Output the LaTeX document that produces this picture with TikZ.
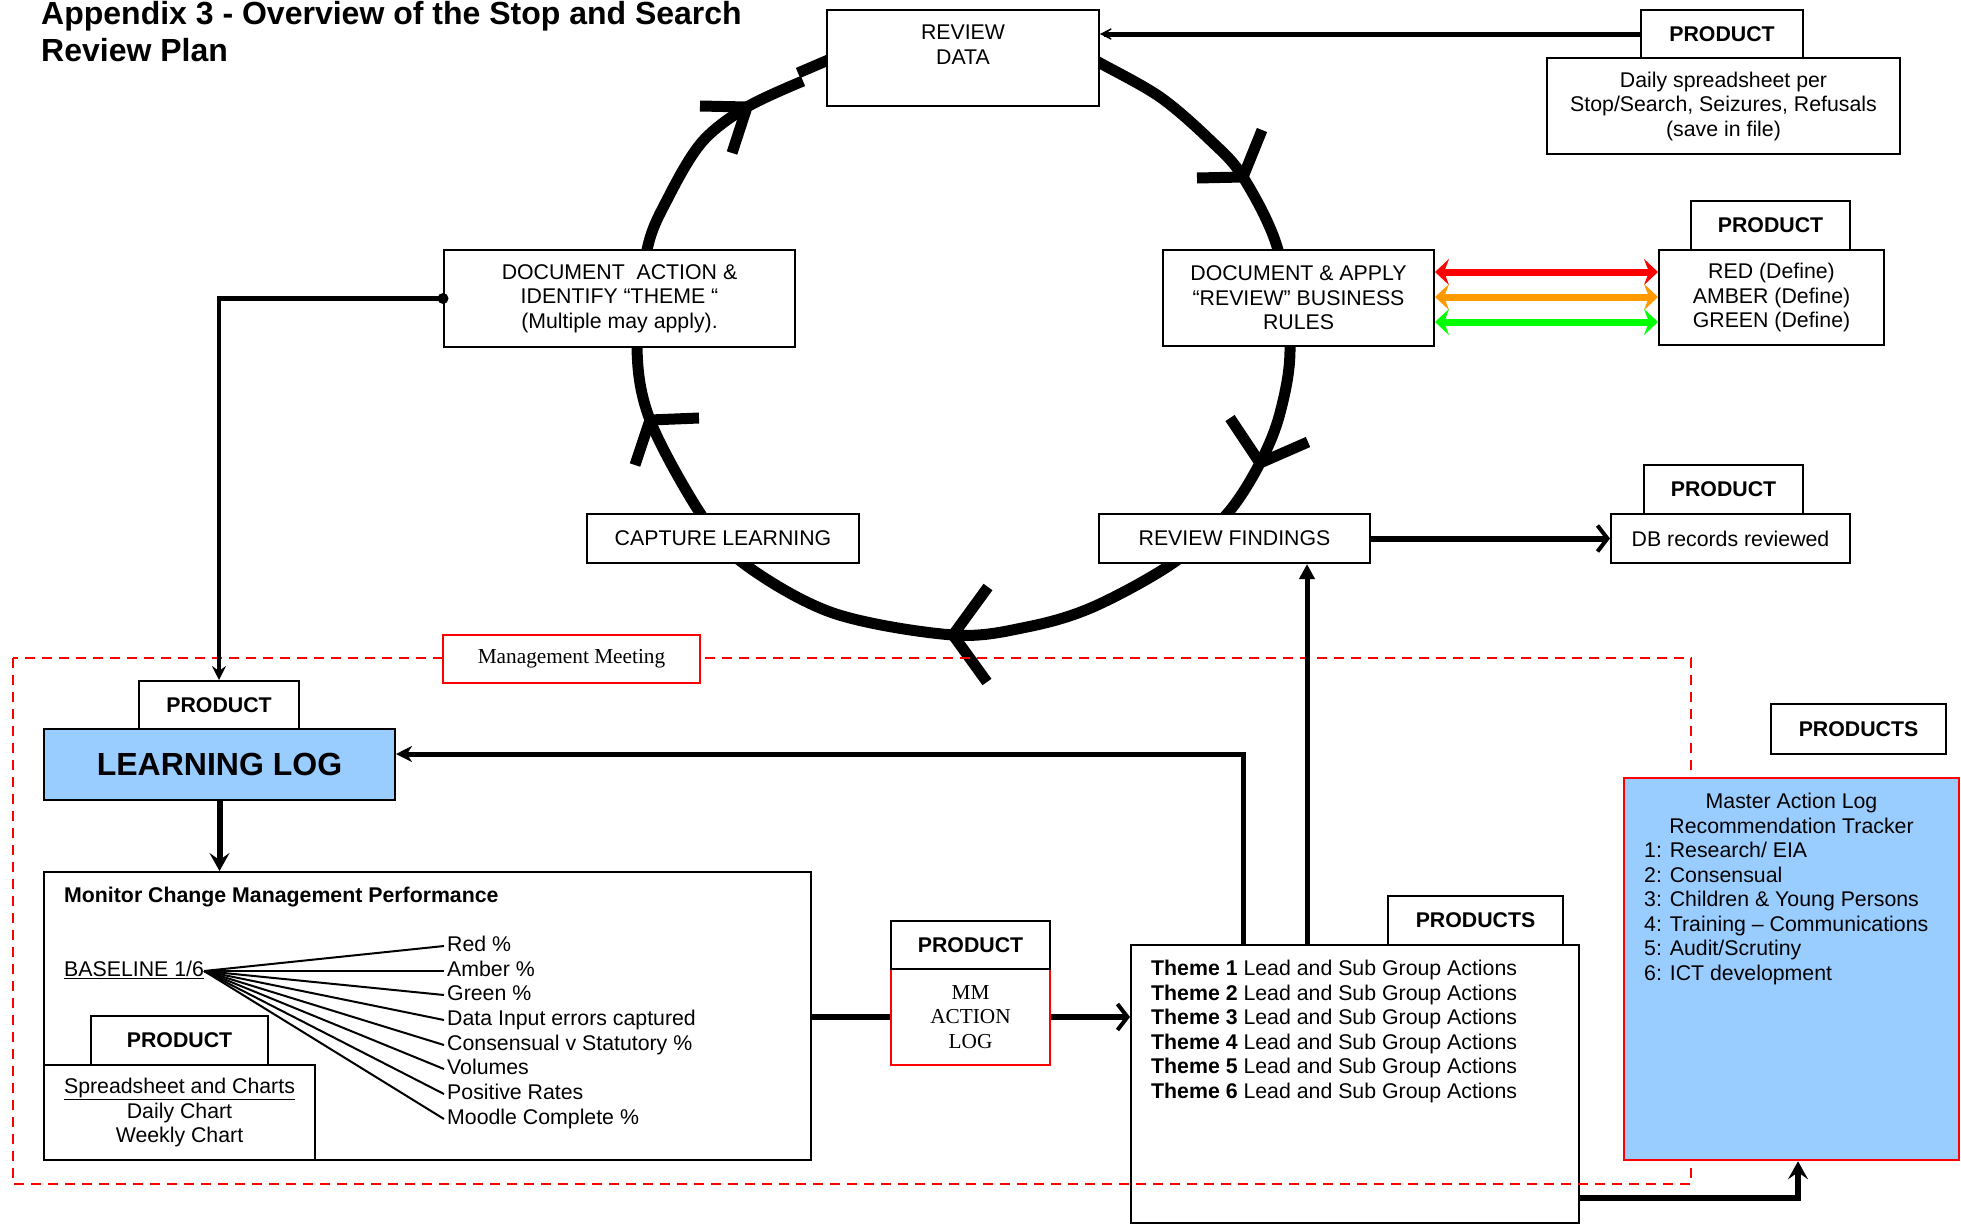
\documentclass[tikz,border=0pt]{standalone}
\usepackage{fontspec}
\setmainfont{Liberation Sans}
\newfontfamily\serifface{Liberation Serif}
\usetikzlibrary{arrows.meta}
\definecolor{lblue}{HTML}{99CCFF}
\definecolor{rorange}{HTML}{FF9900}
\definecolor{rgreen}{HTML}{00FF00}
\newcommand\bodyfont{\fontsize{21.3}{24.5}\selectfont}
\begin{document}
\begin{tikzpicture}[x=1pt,y=-1pt,
  wh/.style 2 args={minimum width=#1pt, minimum height=#2pt},
  box/.style={draw, line width=2pt, fill=white, inner sep=0pt, align=center, font=\bodyfont},
  redbox/.style={box, draw=red, line width=2.5pt},
  prodbox/.style={box, font=\bodyfont\bfseries},
  txt/.style={inner sep=0pt, font=\bodyfont},
  lbl/.style={txt, anchor=west, text height=15pt, text depth=4pt, inner xsep=3pt},
  ring/.style={line width=11pt},
  chev/.style={line width=11pt, line join=miter},
  rdarrow/.style={line width=5pt, -{Stealth[length=19pt,width=20pt,inset=14pt]}},
  connA/.style={line width=4.5pt, -{Stealth[length=14pt,width=14pt,inset=5pt]}},
  connB/.style={line width=6pt, -{Stealth[length=18pt,width=20pt,inset=7pt]}},
  connC/.style={line width=5pt, -{Stealth[length=16pt,width=16pt,inset=5pt]}},
  tri/.style={line width=5pt, -{Triangle[length=15pt,width=15pt]}},
  barb/.style={line width=6pt, -{Straight Barb[length=10pt,width=26pt,line width=4pt]}},
  ragarrow/.style={line width=7pt, {Stealth[length=14pt,width=26pt,inset=5pt]}-{Stealth[length=14pt,width=26pt,inset=5pt]}},
  fan/.style={line width=2pt},
  meeting/.style={red, line width=2pt, dash pattern=on 10pt off 7pt}
]
\fill[white] (0,0) rectangle (1961,1226);
\useasboundingbox (0,0) rectangle (1961,1226);

% title
\node[txt, anchor=north west, align=left, font=\fontsize{32}{37}\selectfont\bfseries] (title) at (41,1.6)
  {Appendix 3 - Overview of the Stop and Search\\Review Plan};

% review cycle ring
\draw[ring] plot[smooth, tension=0.55] coordinates {(1080,52) (1100,63) (1160,97) (1210,140) (1243,177) (1278,250) (1290,347) (1280,413) (1260,463) (1227,514) (1173,563) (1093,607) (1027,627) (953,635) (833,613) (743,563) (700,513) (650,420) (637,347) (647,250) (668,198) (702,142) (747,107) (803,81)};
\draw[ring] (798,73) -- (840,55);
\draw[chev] (700,106) -- (747,107) -- (732,153);
\draw[chev] (1197,178) -- (1243,177) -- (1262,130);
\draw[chev] (1230,418) -- (1260,463) -- (1308,442);
\draw[chev] (988,587) -- (953,635) -- (987,682);
\draw[chev] (699,418) -- (650,420) -- (635,465);

% upper boxes
\node[box, wh={272}{96}] (rd) at (963,58) {};
\node[txt, anchor=north, align=center] (rdt) at (963,24.8) {REVIEW\\DATA};
\node[prodbox, wh={162}{48}] (prodTR) at (1722,34) {PRODUCT};
\node[box, wh={353}{96}] (daily) at (1723.5,106) {Daily spreadsheet per\\Stop/Search, Seizures, Refusals\\(save in file)};
\node[box, wh={351}{97}] (docact) at (619.5,298.5) {DOCUMENT\ \ ACTION \&\\IDENTIFY “THEME “\\(Multiple may apply).};
\node[box, wh={271}{96}] (docapp) at (1298.5,298) {DOCUMENT \& APPLY\\“REVIEW” BUSINESS\\RULES};
\node[prodbox, wh={159}{49}] (prodRAG) at (1770.5,225.5) {PRODUCT};
\node[box, wh={225}{95}] (rag) at (1771.5,297.5) {RED (Define)\\AMBER (Define)\\GREEN (Define)};
\node[box, wh={272}{49}] (capture) at (723,538.5) {CAPTURE LEARNING};
\node[box, wh={271}{49}] (rf) at (1234.5,538.5) {REVIEW FINDINGS};
\node[prodbox, wh={159}{49}] (prodDB) at (1723.5,489.5) {PRODUCT};
\node[box, wh={239}{49}] (db) at (1730.5,538.5) {DB records reviewed};

% lower boxes
\node[prodbox, wh={160}{48}] (prodLL) at (219,705) {PRODUCT};
\node[box, fill=lblue, wh={351}{71}, font=\fontsize{32}{36}\selectfont\bfseries] (ll) at (219.5,764.5) {LEARNING LOG};
\node[box, wh={767}{288}] (monitor) at (427.5,1016) {};
\node[txt, anchor=west, font=\bodyfont\bfseries] (montitle) at (64,897) {Monitor Change Management Performance};
\node[txt, anchor=west, text height=15pt, text depth=4pt] (base) at (64,971) {\underline{BASELINE 1/6}};
\node[lbl] (l1) at (444,946) {Red \%};
\node[lbl] (l2) at (444,971) {Amber \%};
\node[lbl] (l3) at (444,995) {Green \%};
\node[lbl] (l4) at (444,1020) {Data Input errors captured};
\node[lbl] (l5) at (444,1045) {Consensual v Statutory \%};
\node[lbl] (l6) at (444,1069) {Volumes};
\node[lbl] (l7) at (444,1094) {Positive Rates};
\node[lbl] (l8) at (444,1119) {Moodle Complete \%};
\foreach \i in {1,...,8} \draw[fan] (base.east) -- (l\i.west);
\node[prodbox, wh={177}{49}] (prodSC) at (179.5,1040.5) {PRODUCT};
\node[box, wh={271}{95}] (sc) at (179.5,1112.5) {\underline{Spreadsheet and Charts}\\Daily Chart\\Weekly Chart};
\node[redbox, wh={159}{96}, font=\serifface\bodyfont] (mmlog) at (970.5,1017) {MM\\ACTION\\LOG};
\node[prodbox, wh={159}{48}] (prodMM) at (970.5,945) {PRODUCT};
\node[prodbox, wh={175}{49}] (prodTh) at (1475.5,920.5) {PRODUCTS};
\node[box, wh={448}{278}] (theme) at (1355,1084) {};
\node[txt, anchor=north west, align=left] (themetxt) at (1151,960)
  {\textbf{Theme 1} Lead and Sub Group Actions\\
   \textbf{Theme 2} Lead and Sub Group Actions\\
   \textbf{Theme 3} Lead and Sub Group Actions\\
   \textbf{Theme 4} Lead and Sub Group Actions\\
   \textbf{Theme 5} Lead and Sub Group Actions\\
   \textbf{Theme 6} Lead and Sub Group Actions};

% management meeting frame
\draw[meeting] (13,658) rectangle (1691,1184);
\node[redbox, wh={257}{48}, font=\serifface\bodyfont] (meet) at (571.5,659) {Management Meeting};

\node[prodbox, wh={175}{50}] (prodMA) at (1858.5,729) {PRODUCTS};
\node[redbox, fill=lblue, wh={335}{382}] (master) at (1791.5,969) {};
\node[txt, anchor=north, align=center] (mastert) at (1791.5,793) {Master Action Log\\Recommendation Tracker};
\node[txt, anchor=north west, align=left] (masteri) at (1644,842)
  {1: Research/ EIA\\2: Consensual\\3: Children \& Young Persons\\4: Training – Communications\\5: Audit/Scrutiny\\6: ICT development};

% connectors
\draw[rdarrow] (prodTR.west) -- (prodTR.west -| rd.east);
\draw[ragarrow, red] ([yshift=26pt]docapp.east) -- ([yshift=26pt]docapp.east -| rag.west);
\draw[ragarrow, rorange] ([yshift=1pt]docapp.east) -- ([yshift=1pt]docapp.east -| rag.west);
\draw[ragarrow, rgreen] ([yshift=-24pt]docapp.east) -- ([yshift=-24pt]docapp.east -| rag.west);
\fill (docact.west) circle (5.5pt);
\draw[connA] (docact.west) -| (prodLL.north);
\draw[connB] (ll.south) -- (ll.south |- monitor.north);
\draw[line width=6pt] (monitor.east |- mmlog.west) -- (mmlog.west);
\draw[barb] (mmlog.east) -- (mmlog.east -| theme.west);
\draw[connC] ([xshift=113pt]theme.north west) |- ([yshift=10.5pt]ll.east);
\draw[tri] ([xshift=177pt]theme.north west) -- ([xshift=177pt]theme.north west |- rf.south);
\draw[barb] (rf.east) -- (db.west);
\draw[connB] ([yshift=-114pt]theme.east) -| ([xshift=6.5pt]master.south);
\end{tikzpicture}
\end{document}
